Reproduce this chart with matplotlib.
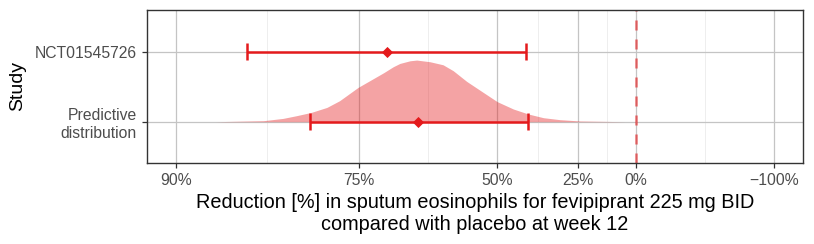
import numpy as np
import matplotlib
matplotlib.use("Agg")
import matplotlib.pyplot as plt

# study estimates: reduction [%] (point, lower, upper)
studies = ["Predictive\ndistribution", "NCT01545726"]
point_red = [66.3, 71.2]
low_red = [80.4, 85.7]
high_red = [41.7, 42.3]

# predictive density (reduction %, ridge height in row units)
dens_red = [87.8, 84.5, 82.9, 81.7, 80.3, 78.7, 77.3, 75.1, 73.6, 71.7, 70.3, 69.3,
            67.7, 66.6, 64.3, 61.9, 59.9, 57.1, 53.4, 50.0, 45.8, 41.6, 37.0, 31.6,
            24.3, 5.2]
dens_h = [0.0, 0.014, 0.047, 0.086, 0.133, 0.204, 0.30, 0.49, 0.586, 0.70, 0.786, 0.833,
          0.871, 0.881, 0.857, 0.814, 0.729, 0.576, 0.419, 0.286, 0.181, 0.11, 0.057, 0.029,
          0.01, 0.0]

tick_red = [90, 75, 50, 25, 0, -100]
tick_lab = ["90%", "75%", "50%", "25%", "0%", "\u2212100%"]

RED = "#E41A1C"
FONT = "Liberation Sans"


def ratio(r):
    return 1 - np.asarray(r, dtype=float) / 100


fig = plt.figure(figsize=(8.14, 2.44), dpi=100)
ax = fig.add_axes([0.1802, 0.3307, 0.8067, 0.6283])
ax.set_xscale("log")

# grid
major = ratio(tick_red)
minor = np.sqrt(major[:-1] * major[1:])
for m in minor:
    ax.axvline(m, color="#EBEBEB", lw=0.6, zorder=0)
for m in major:
    ax.axvline(m, color="#C4C4C4", lw=0.9, zorder=0)
for yy in [1, 2]:
    ax.axhline(yy, color="#C4C4C4", lw=0.9, zorder=0)

ax.fill_between(ratio(dens_red), 1, 1 + np.array(dens_h), color=RED, alpha=0.4,
                lw=0, zorder=1)

ax.axvline(1.0, color=RED, alpha=0.6, lw=1.8, ls=(0, (4, 3.6)), zorder=2)

for i in range(len(studies)):
    y = i + 1
    ax.plot([ratio(low_red[i]), ratio(high_red[i])], [y, y], color=RED, lw=1.8,
            solid_capstyle="butt", zorder=3)
    for r in (low_red[i], high_red[i]):
        ax.plot([ratio(r), ratio(r)], [y - 0.12, y + 0.12], color=RED, lw=1.8,
                solid_capstyle="butt", zorder=3)
    ax.plot(ratio(point_red[i]), y, marker="D", ms=4.8, color=RED, mec=RED,
            mew=0.6, zorder=4)

ax.set_xlim(0.0864, 2.315)
ax.set_ylim(0.405, 2.597)

ax.set_xticks(major)
ax.set_xticklabels(tick_lab)
ax.xaxis.set_minor_locator(matplotlib.ticker.NullLocator())
ax.set_yticks([1, 2])
ax.set_yticklabels(studies)

for lab in ax.get_xticklabels() + ax.get_yticklabels():
    lab.set_fontfamily(FONT)
    lab.set_fontsize(11.3)
    lab.set_color("#4D4D4D")
ax.tick_params(axis="both", length=3.6, width=0.9, color="#333333", pad=3.6)

for s in ax.spines.values():
    s.set_color("#333333")
    s.set_linewidth(1.0)

fig.text(17.5 / 814, 0.6455, "Study", rotation=90, ha="center", va="center",
         fontsize=14, family=FONT)
fig.text(475 / 814, 0.123,
         "Reduction [%] in sputum eosinophils for fevipiprant 225 mg BID\n"
         "compared with placebo at week 12",
         ha="center", va="center", fontsize=14.3, family=FONT, linespacing=1.2)

fig.savefig("out.png", dpi=100)
